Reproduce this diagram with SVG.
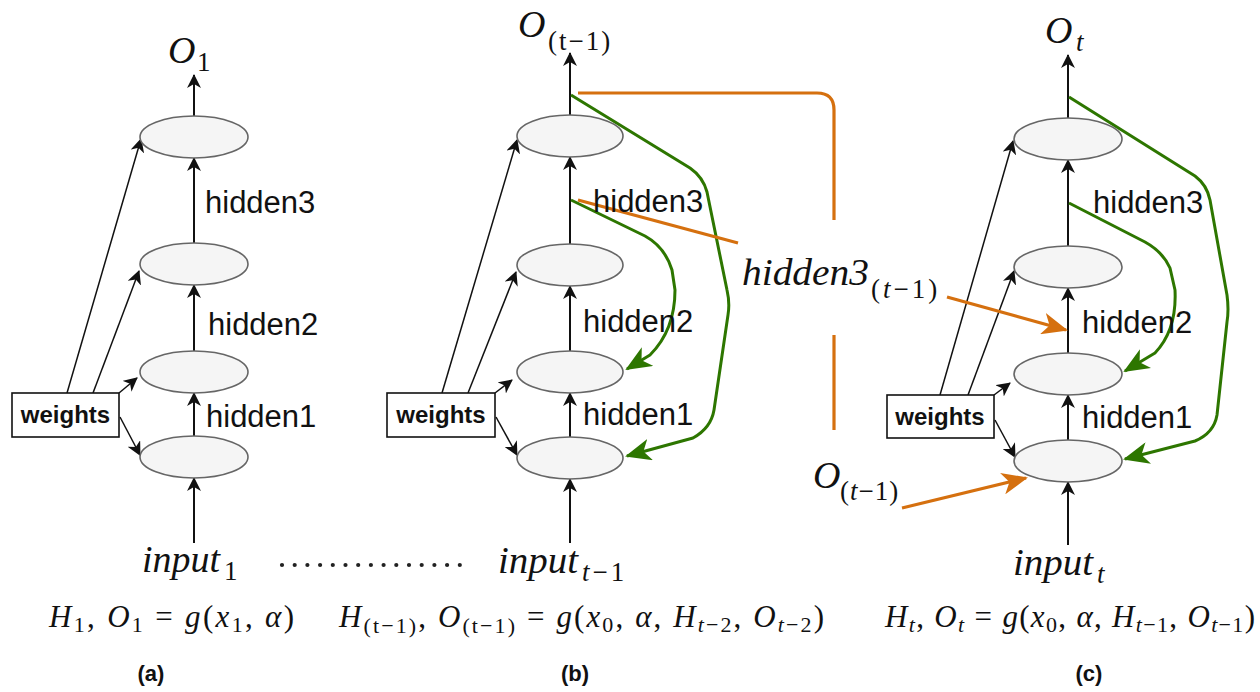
<svg xmlns="http://www.w3.org/2000/svg" width="1260" height="692" viewBox="0 0 1260 692">
<style>
.m{font-family:"Liberation Serif","DejaVu Serif",serif;font-style:italic;font-size:38px;fill:#111}
.ms{font-family:"Liberation Serif","DejaVu Serif",serif;font-size:27px;fill:#111}
.h{font-family:"Liberation Sans",Arial,sans-serif;font-size:31px;fill:#111}
.w{font-family:"Liberation Sans",Arial,sans-serif;font-weight:bold;font-size:24px;fill:#111;text-anchor:middle}
.cap{font-family:"Liberation Sans",Arial,sans-serif;font-weight:bold;font-size:22px;fill:#111;text-anchor:middle}
.f{font-family:"Liberation Serif","DejaVu Serif",serif;font-size:31px;fill:#111}
.i{font-style:italic}
.s{font-size:22px}
.el{fill:#f5f5f5;stroke:#666;stroke-width:1.6}
.box{fill:#fff;stroke:#111;stroke-width:1.6}
.ln{fill:none;stroke:#111;stroke-width:2;marker-end:url(#ab)}
.wa{fill:none;stroke:#111;stroke-width:1.5;marker-end:url(#ab)}
.g{fill:none;stroke:#2d7600;stroke-width:3;stroke-linejoin:round;marker-end:url(#ag)}
.o{fill:none;stroke:#d5700f;stroke-width:3.2}
.oa{fill:none;stroke:#d5700f;stroke-width:3.2;marker-end:url(#ao)}
</style>
<defs>
<marker id="ab" viewBox="0 0 14 14" refX="13" refY="7" markerWidth="14" markerHeight="14" orient="auto" markerUnits="userSpaceOnUse"><path d="M0,0 L14,7 L0,14 L4,7 Z" fill="#111"/></marker>
<marker id="ag" viewBox="0 0 26 22" refX="24" refY="11" markerWidth="26" markerHeight="22" orient="auto" markerUnits="userSpaceOnUse"><path d="M0,0 L26,11 L0,22 L7,11 Z" fill="#2d7600"/></marker>
<marker id="ao" viewBox="0 0 26 22" refX="24" refY="11" markerWidth="26" markerHeight="22" orient="auto" markerUnits="userSpaceOnUse"><path d="M0,0 L26,11 L0,22 L7,11 Z" fill="#d5700f"/></marker>
</defs>
<rect width="1260" height="692" fill="#fff"/>

<g id="connectors">
<path class="ln" d="M194,116 L194,75"/>
<path class="ln" d="M194,243 L194,158"/>
<path class="ln" d="M194,351 L194,285"/>
<path class="ln" d="M194,436 L194,393"/>
<path class="ln" d="M194,543 L194,478"/>
<path class="wa" d="M67,393 L141,139"/>
<path class="wa" d="M93,393 L139,271"/>
<path class="wa" d="M119,393 L137,378"/>
<path class="wa" d="M120,417 L140,455"/>
<path class="ln" d="M570,115 L570,53"/>
<path class="ln" d="M570,244 L570,157"/>
<path class="ln" d="M570,351 L570,286"/>
<path class="ln" d="M570,437 L570,393"/>
<path class="ln" d="M570,543 L570,479"/>
<path class="wa" d="M442,393 L517,140"/>
<path class="wa" d="M468,393 L516,272"/>
<path class="wa" d="M495,393 L512,380"/>
<path class="wa" d="M496,417 L517,455"/>
<path class="g" d="M571,95 L690,168 Q703,177 707,192 L727,290 Q730,303 728,315 L714,410 Q711,428 693,438 L627,456"/>
<path class="g" d="M571,200 L645,236 Q665,247 672,270 L675,290 Q675,330 650,355 L627,369"/>
<path class="ln" d="M1068,118 L1068,55"/>
<path class="ln" d="M1068,246 L1068,160"/>
<path class="ln" d="M1068,353 L1068,288"/>
<path class="ln" d="M1068,440 L1068,395"/>
<path class="ln" d="M1068,545 L1068,482"/>
<path class="wa" d="M940,395 L1013,141"/>
<path class="wa" d="M968,395 L1014,271"/>
<path class="wa" d="M994,395 L1010,383"/>
<path class="wa" d="M995,420 L1015,457"/>
<path class="g" d="M1069,97 L1195,176 Q1207,185 1210,200 L1227,295 Q1229,310 1227,322 L1217,415 Q1214,433 1195,441 L1125,459"/>
<path class="g" d="M1069,203 L1145,242 Q1163,252 1170,268 L1175,290 Q1177,330 1155,353 L1125,371"/>
<path class="o" d="M578,93 L817,93 Q834,93 834,110 L834,220"/>
<path class="o" d="M834,335 L834,430"/>
<path class="o" d="M578,200 L738,243"/>
<path class="oa" d="M947,297 L1066,330"/>
<path class="oa" d="M902,508 L1026,478"/>
<line x1="282" y1="565" x2="460" y2="565" stroke="#222" stroke-width="4.2" stroke-linecap="round" stroke-dasharray="0 12.7"/>
</g>

<g id="col-a">
<ellipse class="el" cx="194" cy="137" rx="54" ry="21"/>
<ellipse class="el" cx="194" cy="264" rx="54" ry="21"/>
<ellipse class="el" cx="194" cy="372" rx="54" ry="21"/>
<ellipse class="el" cx="194" cy="457" rx="54" ry="21"/>
</g>
<g id="weights-a"><rect class="box" x="12" y="393" width="107" height="44"/><text class="w" x="65.5" y="423">weights</text></g>
<g id="col-b">
<ellipse class="el" cx="570" cy="136" rx="53" ry="21"/>
<ellipse class="el" cx="570" cy="265" rx="53" ry="21"/>
<ellipse class="el" cx="570" cy="372" rx="53" ry="21"/>
<ellipse class="el" cx="570" cy="458" rx="53" ry="21"/>
</g>
<g id="weights-b"><rect class="box" x="387" y="393" width="108" height="44"/><text class="w" x="441" y="423">weights</text></g>
<g id="col-c">
<ellipse class="el" cx="1068" cy="139" rx="54" ry="21"/>
<ellipse class="el" cx="1068" cy="267" rx="54" ry="21"/>
<ellipse class="el" cx="1068" cy="374" rx="54" ry="21"/>
<ellipse class="el" cx="1068" cy="461" rx="54" ry="21"/>
</g>
<g id="weights-c"><rect class="box" x="887" y="395" width="107" height="43"/><text class="w" x="940" y="425">weights</text></g>

<g id="labels">
<text class="h" x="205" y="213">hidden3</text>
<text class="h" x="208" y="335">hidden2</text>
<text class="h" x="206" y="427">hidden1</text>
<text class="h" x="593" y="212">hidden3</text>
<text class="h" x="583" y="332">hidden2</text>
<text class="h" x="583" y="425">hidden1</text>
<text class="h" x="1093" y="213">hidden3</text>
<text class="h" x="1082" y="333">hidden2</text>
<text class="h" x="1082" y="428">hidden1</text>

<text class="m" x="168" y="63">O</text><text class="ms" x="197" y="71">1</text>
<text class="m" x="518" y="37">O</text><text class="ms" x="548" y="50" letter-spacing="2">(t−1)</text>
<text class="m" x="1045" y="43">O</text><text class="ms i" x="1076" y="51">t</text>
<text class="m" x="742" y="285" textLength="127" lengthAdjust="spacingAndGlyphs">hidden3</text><text class="ms" x="871" y="298" letter-spacing="3">(<tspan class="i">t</tspan>−1)</text>
<text class="m" x="813" y="488">O</text><text class="ms" x="840" y="500" letter-spacing="1">(<tspan class="i">t</tspan>−1)</text>

<text class="m" x="142" y="572" textLength="78" lengthAdjust="spacingAndGlyphs">input</text><text class="ms" x="224" y="580">1</text>
<text class="m" x="498" y="573" textLength="80" lengthAdjust="spacingAndGlyphs">input</text><text class="ms" x="582" y="581" letter-spacing="3"><tspan class="i">t</tspan>−1</text>
<text class="m" x="1013" y="575" textLength="80" lengthAdjust="spacingAndGlyphs">input</text><text class="ms i" x="1097" y="583">t</text>
</g>

<g id="formulas">
<text class="f" x="49" y="627" textLength="245" lengthAdjust="spacing"><tspan class="i">H</tspan><tspan class="s" dy="5">1</tspan><tspan dy="-5">, </tspan><tspan class="i">O</tspan><tspan class="s" dy="5">1</tspan><tspan dy="-5"> = </tspan><tspan class="i">g</tspan>(<tspan class="i">x</tspan><tspan class="s" dy="5">1</tspan><tspan dy="-5">, </tspan><tspan class="i">α</tspan>)</text>
<text class="f" x="339" y="627" textLength="485" lengthAdjust="spacing"><tspan class="i">H</tspan><tspan class="s" dy="6">(t−1)</tspan><tspan dy="-6">, </tspan><tspan class="i">O</tspan><tspan class="s" dy="6">(t−1)</tspan><tspan dy="-6"> = </tspan><tspan class="i">g</tspan>(<tspan class="i">x</tspan><tspan class="s" dy="5">0</tspan><tspan dy="-5">, </tspan><tspan class="i">α</tspan>, <tspan class="i">H</tspan><tspan class="s i" dy="5">t</tspan><tspan class="s">−2</tspan><tspan dy="-5">, </tspan><tspan class="i">O</tspan><tspan class="s i" dy="5">t</tspan><tspan class="s">−2</tspan><tspan dy="-5">)</tspan></text>
<text class="f" x="885" y="627" textLength="370" lengthAdjust="spacing"><tspan class="i">H</tspan><tspan class="s i" dy="5">t</tspan><tspan dy="-5">, </tspan><tspan class="i">O</tspan><tspan class="s i" dy="5">t</tspan><tspan dy="-5"> = </tspan><tspan class="i">g</tspan>(<tspan class="i">x</tspan><tspan class="s" dy="5">0</tspan><tspan dy="-5">, </tspan><tspan class="i">α</tspan>, <tspan class="i">H</tspan><tspan class="s i" dy="5">t</tspan><tspan class="s">−1</tspan><tspan dy="-5">, </tspan><tspan class="i">O</tspan><tspan class="s i" dy="5">t</tspan><tspan class="s">−1</tspan><tspan dy="-5">)</tspan></text>
<text class="cap" x="151" y="681">(a)</text>
<text class="cap" x="575" y="681">(b)</text>
<text class="cap" x="1089" y="681">(c)</text>
</g>
</svg>
